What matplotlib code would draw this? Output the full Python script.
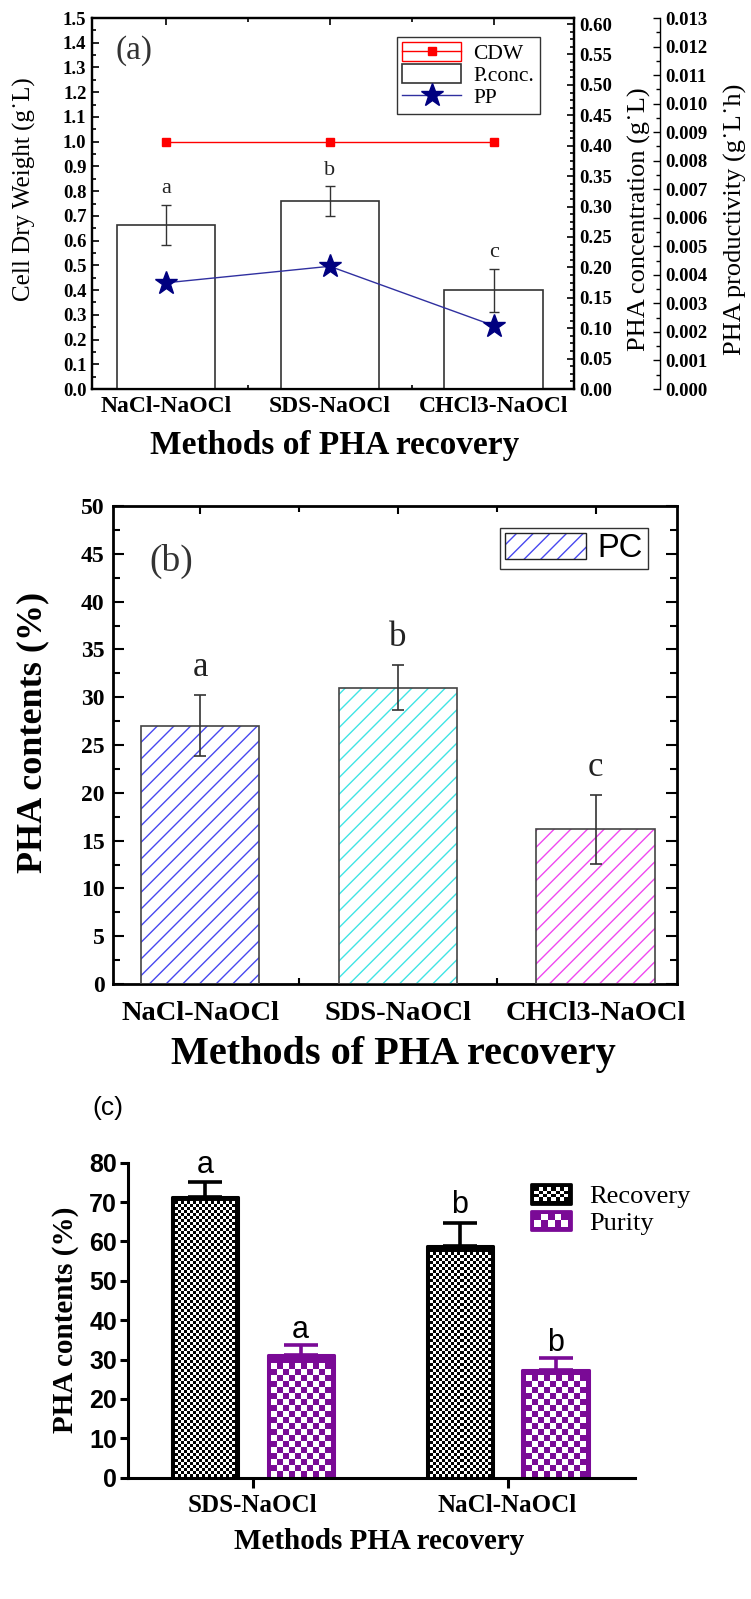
import numpy as np
import matplotlib
matplotlib.use('Agg')
import matplotlib.pyplot as plt
from matplotlib.ticker import MultipleLocator, FormatStrFormatter, FixedLocator
from matplotlib.patches import Rectangle
from matplotlib.lines import Line2D
from matplotlib.legend_handler import HandlerBase

SERIF = 'Liberation Serif'
SANS = 'Liberation Sans'

# ---------------- data ----------------
# Panel (a)
methods_a = ['NaCl-NaOCl', 'SDS-NaOCl', 'CHCl3-NaOCl']
cdw = [1.0, 1.0, 1.0]                       # g/L, left axis
pconc = [0.269, 0.309, 0.162]               # g/L, right axis
pconc_err = [0.033, 0.024, 0.035]
pp = [0.00372, 0.00430, 0.00222]            # g/L/h, third axis
letters_a = ['a', 'b', 'c']

# Panel (b)
methods_b = ['NaCl-NaOCl', 'SDS-NaOCl', 'CHCl3-NaOCl']
pc = [27.0, 31.0, 16.2]
pc_err = [3.2, 2.35, 3.6]
letters_b = ['a', 'b', 'c']
colors_b = ['#4848f0', '#40e4e4', '#f048f0']

# Panel (c)
methods_c = ['SDS-NaOCl', 'NaCl-NaOCl']
recovery = [71.3, 58.8]
recovery_err = [3.7, 5.9]
purity = [31.1, 27.3]
purity_err = [2.6, 3.0]
letters_rec = ['a', 'b']
letters_pur = ['a', 'b']

PURPLE = '#7a0a96'

W, H = 751, 1599
fig = plt.figure(figsize=(W / 100, H / 100), dpi=100)


def fr(l, t, r, b):
    return [l / W, 1 - b / H, (r - l) / W, (b - t) / H]


def bold_ticklabels(ax, axis, size, family=SERIF, weight='bold'):
    labels = ax.get_xticklabels() if axis == 'x' else ax.get_yticklabels()
    for t in labels:
        t.set_fontfamily(family)
        t.set_fontweight(weight)
        t.set_fontsize(size)


# =============== Panel (a) ===============
axA = fig.add_axes(fr(92, 18, 574, 389))
xa = np.arange(len(methods_a))
axA.set_xlim(-0.45, 2.49)
axA.set_ylim(0, 1.5)
axA.plot(xa, cdw, color='red', lw=1.0, marker='s', ms=6, mfc='red', mec='red', zorder=3)
axA.yaxis.set_major_locator(MultipleLocator(0.1))
axA.yaxis.set_minor_locator(MultipleLocator(0.05))
axA.yaxis.set_major_formatter(FormatStrFormatter('%.1f'))
axA.xaxis.set_major_locator(FixedLocator(xa))
axA.xaxis.set_minor_locator(FixedLocator([0.5, 1.5]))
axA.set_xticklabels(methods_a)
axA.tick_params(axis='y', which='both', direction='in', left=True, right=False, width=1.2)
axA.tick_params(axis='y', which='major', length=5, pad=4)
axA.tick_params(axis='y', which='minor', length=3)
axA.tick_params(axis='x', which='both', direction='in', top=True, bottom=True, width=1.2)
axA.tick_params(axis='x', which='major', length=5, pad=5)
axA.tick_params(axis='x', which='minor', length=3)
for s in axA.spines.values():
    s.set_linewidth(1.6)
bold_ticklabels(axA, 'y', 13.5)
bold_ticklabels(axA, 'x', 17)
axA.set_ylabel('Cell Dry Weight (g\u02d9L)', fontfamily=SERIF, fontsize=18, va='center')
axA.yaxis.set_label_coords(-0.14, 0.54)
axA.set_xlabel('Methods of PHA recovery', fontfamily=SERIF, fontweight='bold', fontsize=24, va='center')
axA.xaxis.set_label_coords(0.503, -0.152)
axA.text(0.087, 0.912, '(a)', transform=axA.transAxes, fontfamily=SERIF, fontsize=24,
         color='#333333', ha='center', va='center')

axA2 = axA.twinx()
axA2.set_ylim(0, 0.61)
axA2.bar(xa, pconc, width=0.6, color='white', edgecolor='#333333', lw=1.2, zorder=2)
axA2.errorbar(xa, pconc, yerr=pconc_err, fmt='none', ecolor='#333333', elinewidth=1.0,
              capsize=3.5, capthick=1.0, zorder=3)
for i, l in enumerate(letters_a):
    axA2.annotate(l, (xa[i], pconc[i] + pconc_err[i]), xytext=(0, 5), textcoords='offset points',
                  ha='center', va='bottom', fontfamily=SERIF, fontsize=16, color='#222222')
axA2.yaxis.set_major_locator(FixedLocator(np.arange(0, 0.601, 0.05)))
axA2.yaxis.set_minor_locator(FixedLocator(np.arange(0, 0.601, 0.0125)))
axA2.yaxis.set_major_formatter(FormatStrFormatter('%.2f'))
axA2.tick_params(axis='y', which='both', direction='in', width=1.2)
axA2.tick_params(axis='y', which='major', length=5, pad=4)
axA2.tick_params(axis='y', which='minor', length=3)
bold_ticklabels(axA2, 'y', 13.5)
axA2.set_ylabel('PHA concentration (g\u02d9L)', fontfamily=SERIF, fontsize=19, va='center')
axA2.yaxis.set_label_coords(1.135, 0.457)
for s in axA2.spines.values():
    s.set_linewidth(1.6)

axA3 = axA.twinx()
axA3.set_ylim(0, 0.013)
for k in ['left', 'top', 'bottom']:
    axA3.spines[k].set_visible(False)
axA3.spines['right'].set_position(('axes', 1.178))
axA3.spines['right'].set_linewidth(1.0)
axA3.spines['right'].set_bounds(0, 0.013)
axA3.plot(xa, pp, color='#3030a0', lw=1.0, marker='*', ms=17, mfc='#000080', mec='#000080', zorder=4)
axA3.yaxis.set_major_locator(MultipleLocator(0.001))
axA3.yaxis.set_minor_locator(MultipleLocator(0.0005))
axA3.yaxis.set_major_formatter(FormatStrFormatter('%.3f'))
axA3.tick_params(axis='y', which='both', direction='in', width=1.0)
axA3.tick_params(axis='y', which='major', length=5, pad=4)
axA3.tick_params(axis='y', which='minor', length=3)
bold_ticklabels(axA3, 'y', 13.5)
axA3.set_ylabel('PHA productivity (g\u02d9L\u02d9h)', fontfamily=SERIF, fontsize=19, va='center')
axA3.yaxis.set_label_coords(1.336, 0.457)

h_cdw = (Rectangle((0, 0), 1, 1, fc='none', ec='red', lw=1.0),
         Line2D([], [], color='red', lw=1.0, marker='s', ms=6))
h_pc = Rectangle((0, 0), 1, 1, fc='white', ec='#333333', lw=1.2)
h_pp = Line2D([], [], color='#3030a0', lw=1.0, marker='*', ms=17, mfc='#000080', mec='#000080')
legA = axA3.legend([h_cdw, h_pc, h_pp], ['CDW', 'P.conc.', 'PP'], loc='upper left',
                   bbox_to_anchor=(0.633, 0.949), borderaxespad=0, fancybox=False,
                   edgecolor='#333333', framealpha=1, handlelength=2.7, handleheight=0.95,
                   labelspacing=0.02, borderpad=0.25, handletextpad=0.6,
                   prop={'family': SERIF, 'size': 15.5})
legA.get_frame().set_linewidth(1.0)

# =============== Panel (b) ===============
axB = fig.add_axes(fr(113, 506, 677, 984))
xb = np.arange(len(methods_b))
axB.set_xlim(-0.44, 2.41)
axB.set_ylim(0, 50)
for i in range(len(xb)):
    axB.bar(xb[i], pc[i], width=0.6, color='white', edgecolor=colors_b[i], hatch='//', lw=0, zorder=2)
    axB.bar(xb[i], pc[i], width=0.6, fill=False, edgecolor='#444444', lw=1.2, zorder=3)
axB.errorbar(xb, pc, yerr=pc_err, fmt='none', ecolor='#333333', elinewidth=1.2,
             capsize=4, capthick=1.2, zorder=4)
for i, l in enumerate(letters_b):
    axB.annotate(l, (xb[i], pc[i] + pc_err[i]), xytext=(0, 8), textcoords='offset points',
                 ha='center', va='bottom', fontfamily=SERIF, fontsize=25, color='#222222')
axB.yaxis.set_major_locator(MultipleLocator(5))
axB.yaxis.set_minor_locator(MultipleLocator(2.5))
axB.xaxis.set_major_locator(FixedLocator(xb))
axB.xaxis.set_minor_locator(FixedLocator([0.5, 1.5]))
axB.set_xticklabels(methods_b)
axB.tick_params(axis='y', which='both', direction='in', left=True, right=True, width=1.5)
axB.tick_params(axis='y', which='major', length=8, pad=6)
axB.tick_params(axis='y', which='minor', length=5)
axB.tick_params(axis='x', which='both', direction='in', top=True, bottom=True, width=1.5)
axB.tick_params(axis='x', which='major', length=6, pad=12)
axB.tick_params(axis='x', which='minor', length=4)
for s in axB.spines.values():
    s.set_linewidth(2.0)
bold_ticklabels(axB, 'y', 17)
bold_ticklabels(axB, 'x', 20.5)
axB.set_ylabel('PHA contents (%)', fontfamily=SERIF, fontweight='bold', fontsize=26, va='center')
axB.yaxis.set_label_coords(-0.143, 0.527)
axB.set_xlabel('Methods of PHA recovery', fontfamily=SERIF, fontweight='bold', fontsize=29, va='center')
axB.xaxis.set_label_coords(0.498, -0.1485)
axB.text(0.104, 0.885, '(b)', transform=axB.transAxes, fontfamily=SERIF, fontsize=27,
         color='#333333', ha='center', va='center')
h_b = (Rectangle((0, 0), 1, 1, fc='white', ec=colors_b[0], hatch='//', lw=0),
       Rectangle((0, 0), 1, 1, fill=False, ec='#222222', lw=1.0))
legB = axB.legend([h_b], ['PC'], loc='upper left', bbox_to_anchor=(0.686, 0.954),
                  borderaxespad=0, fancybox=False, edgecolor='#333333', framealpha=1,
                  handlelength=2.5, handleheight=0.85, borderpad=0.15, handletextpad=0.35,
                  prop={'family': SANS, 'size': 23.5})
legB.get_frame().set_linewidth(1.0)

# =============== Panel (c) ===============
axC = fig.add_axes(fr(128, 1162.7, 635, 1477.7))
xc = np.arange(len(methods_c))
axC.set_xlim(-0.49, 1.5)
axC.set_ylim(0, 80)
off, bw = 0.188, 0.26
axC.errorbar(xc - off, recovery, yerr=[np.zeros(len(xc)), recovery_err], fmt='none',
             ecolor='black', elinewidth=2.6, capsize=12.5, capthick=2.6, zorder=1)
axC.errorbar(xc + off, purity, yerr=[np.zeros(len(xc)), purity_err], fmt='none',
             ecolor=PURPLE, elinewidth=2.6, capsize=12.5, capthick=2.6, zorder=1)
bars_rec = axC.bar(xc - off, recovery, width=bw, color='black', edgecolor='black', lw=2.2,
                   joinstyle='round', zorder=2)
bars_pur = axC.bar(xc + off, purity, width=bw, color=PURPLE, edgecolor=PURPLE, lw=2.2,
                   joinstyle='round', zorder=2)


def add_checker(ax, bar, cell, inset):
    x0, y0 = bar.get_x(), bar.get_y()
    x1, y1 = x0 + bar.get_width(), y0 + bar.get_height()
    p0 = ax.transData.transform((x0, y0))
    p1 = ax.transData.transform((x1, y1))
    px0, px1 = p0[0] + inset, p1[0] - inset
    py0, py1 = p0[1] + 1, p1[1] - inset
    nc = int((px1 - px0) // cell)
    nr = int((py1 - py0) // cell)
    cx = (px0 + px1) / 2
    px0, px1 = cx - nc * cell / 2, cx + nc * cell / 2
    py1 = py0 + nr * cell
    arr = np.zeros((nr, nc, 4))
    ii, jj = np.indices((nr, nc))
    m = (ii + jj) % 2 == 0
    arr[m] = [1, 1, 1, 1]
    inv = ax.transData.inverted()
    d0 = inv.transform((px0, py0))
    d1 = inv.transform((px1, py1))
    ax.imshow(arr, extent=(d0[0], d1[0], d0[1], d1[1]), origin='lower',
              interpolation='nearest', aspect='auto', zorder=2.5)


for b in bars_rec:
    add_checker(axC, b, 3, 3)
for b in bars_pur:
    add_checker(axC, b, 6, 3)
axC.set_xlim(-0.49, 1.5)
axC.set_ylim(0, 80)

for i in range(len(xc)):
    axC.annotate(letters_rec[i], (xc[i] - off, recovery[i] + recovery_err[i]), xytext=(0, 7),
                 textcoords='offset points', ha='center', va='baseline',
                 fontfamily=SANS, fontsize=22)
    axC.annotate(letters_pur[i], (xc[i] + off, purity[i] + purity_err[i]), xytext=(0, 5),
                 textcoords='offset points', ha='center', va='baseline',
                 fontfamily=SANS, fontsize=22)

axC.spines['top'].set_visible(False)
axC.spines['right'].set_visible(False)
axC.spines['left'].set_linewidth(2.2)
axC.spines['bottom'].set_linewidth(2.2)
axC.yaxis.set_major_locator(MultipleLocator(10))
axC.xaxis.set_major_locator(FixedLocator(xc))
axC.set_xticklabels(methods_c)
axC.tick_params(axis='y', direction='out', length=6, width=2.2, pad=2)
axC.tick_params(axis='x', direction='out', length=7, width=2.2, pad=5)
bold_ticklabels(axC, 'y', 18, family=SANS)
bold_ticklabels(axC, 'x', 18)
axC.set_ylabel('PHA contents (%)', fontfamily=SERIF, fontweight='bold', fontsize=21, va='center')
axC.yaxis.set_label_coords(-0.124, 0.50)
axC.set_xlabel('Methods PHA recovery', fontfamily=SERIF, fontweight='bold', fontsize=21, va='center')
axC.xaxis.set_label_coords(0.496, -0.204)


class CheckerHandler(HandlerBase):
    def __init__(self, base, ncols, nrows):
        super().__init__()
        self.base, self.ncols, self.nrows = base, ncols, nrows

    def create_artists(self, legend, orig_handle, xdescent, ydescent, width, height,
                       fontsize, trans):
        x0, y0 = -xdescent, -ydescent
        arts = [Rectangle((x0, y0), width, height, fc=self.base, ec=self.base, lw=2.0,
                          joinstyle='round', transform=trans)]
        ins = 2.0
        cw = (width - 2 * ins) / self.ncols
        ch = (height - 2 * ins) / self.nrows
        for r in range(self.nrows):
            for c in range(self.ncols):
                if (r + c) % 2 == 0:
                    arts.append(Rectangle((x0 + ins + c * cw, y0 + ins + r * ch), cw, ch,
                                          fc='white', ec='none', lw=0, transform=trans))
        return arts


h_rec = Rectangle((0, 0), 1, 1)
h_pur = Rectangle((0, 0), 1, 1)
axC.legend([h_rec, h_pur], ['Recovery', 'Purity'], loc='upper left',
           bbox_to_anchor=(0.775, 0.965), borderaxespad=0, frameon=False,
           handlelength=1.5, handleheight=0.75, labelspacing=0.1, handletextpad=0.7,
           prop={'family': SERIF, 'size': 19},
           handler_map={h_rec: CheckerHandler('black', 8, 4),
                        h_pur: CheckerHandler(PURPLE, 5, 2)})

fig.text(108 / W, 1 - 1108 / H, '(c)', fontfamily=SANS, fontsize=19, ha='center', va='center')

fig.savefig('out.png', dpi=100)
